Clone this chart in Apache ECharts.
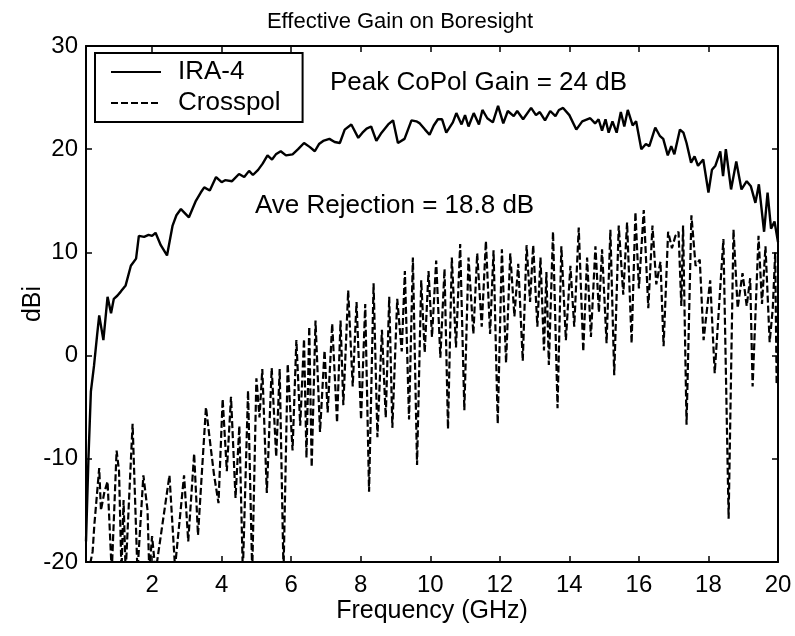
<!DOCTYPE html>
<html>
<head>
<meta charset="utf-8">
<script src="https://cdn.jsdelivr.net/npm/echarts@6/dist/echarts.min.js"></script>
<style>
  html, body { margin: 0; padding: 0; background: #fff; }
  #chart { width: 795px; height: 636px; }
</style>
</head>
<body>
<div id="chart"></div>
<script>
// Co-polarised boresight gain of the IRA-4 (frequency in GHz, gain in dBi)
const copolFreq = [0.10, 0.17, 0.24, 0.33, 0.42, 0.48, 0.60, 0.72, 0.82, 0.90, 1.00, 1.10, 1.24, 1.39, 1.54, 1.62, 1.77, 1.90, 2.00, 2.10,
  2.25, 2.43, 2.59, 2.70, 2.83, 3.06, 3.26, 3.40, 3.50, 3.66, 3.84, 4.00, 4.10, 4.30, 4.50, 4.65, 4.79, 4.90, 5.05, 5.18,
  5.32, 5.45, 5.56, 5.70, 5.85, 6.04, 6.20, 6.37, 6.54, 6.68, 6.80, 6.92, 7.10, 7.25, 7.40, 7.54, 7.73, 7.93, 8.05, 8.17,
  8.30, 8.45, 8.60, 8.79, 8.93, 9.07, 9.26, 9.46, 9.60, 9.70, 9.85, 9.98, 10.10, 10.22, 10.34, 10.46, 10.65, 10.75, 10.90, 11.00,
  11.10, 11.25, 11.40, 11.50, 11.64, 11.80, 11.95, 12.10, 12.23, 12.40, 12.50, 12.67, 12.90, 13.04, 13.15, 13.30, 13.45, 13.60, 13.70, 13.82,
  14.00, 14.20, 14.37, 14.60, 14.74, 14.84, 14.94, 15.04, 15.13, 15.24, 15.36, 15.48, 15.58, 15.68, 15.82, 15.92, 16.07, 16.20, 16.30, 16.47,
  16.60, 16.70, 16.83, 16.93, 17.02, 17.18, 17.28, 17.37, 17.50, 17.60, 17.70, 17.85, 18.00, 18.10, 18.20, 18.34, 18.42, 18.50, 18.65, 18.80,
  18.95, 19.10, 19.22, 19.35, 19.45, 19.60, 19.70, 19.80, 19.90, 20.00];
const copolGain = [-18, -10, -3.5, -1, 2, 3.9, 1.5, 5.7, 4.1, 5.5, 5.8, 6.2, 6.8, 8.7, 9.4, 11.6, 11.5, 11.7, 11.6, 11.9,
  10.7, 9.7, 12.6, 13.6, 14.2, 13.4, 15.0, 15.8, 16.3, 16.0, 17.3, 16.8, 17.0, 16.9, 17.6, 17.3, 17.9, 17.5, 18.0, 18.6,
  19.4, 19.0, 19.5, 19.8, 19.4, 19.5, 20.0, 20.6, 20.2, 19.8, 20.5, 20.8, 21.0, 20.7, 20.6, 21.9, 22.4, 21.1, 21.6, 22.0,
  22.2, 20.8, 21.6, 22.4, 22.8, 20.6, 21.0, 22.8, 22.7, 22.5, 21.9, 21.4, 22.3, 22.9, 22.9, 21.6, 22.6, 23.5, 22.4, 23.3,
  22.2, 23.5, 22.4, 23.8, 23.0, 22.6, 24.2, 22.5, 23.7, 23.2, 23.7, 22.9, 24.0, 23.3, 23.6, 22.8, 23.7, 23.2, 23.8, 24.0,
  23.3, 21.9, 22.7, 23.0, 22.5, 22.9, 21.8, 22.9, 21.6, 22.7, 21.6, 23.6, 22.2, 23.8, 22.3, 22.7, 20.0, 20.5, 20.3, 22.1,
  21.3, 21.0, 19.4, 20.3, 19.5, 21.9, 21.6, 20.6, 18.7, 19.3, 18.4, 19.0, 15.8, 18.0, 18.4, 19.8, 17.4, 20.0, 16.1, 18.8,
  16.1, 16.9, 16.4, 14.8, 16.6, 12.0, 15.8, 12.3, 13.0, 11.0];

// Cross-polarised response on boresight
const xpolFreq = [0.10, 0.20, 0.29, 0.34, 0.48, 0.53, 0.63, 0.72, 0.84, 0.98, 1.05, 1.12, 1.18, 1.24, 1.44, 1.58, 1.75, 1.87, 1.92, 2.00,
  2.10, 2.50, 2.66, 2.92, 3.04, 3.21, 3.32, 3.55, 3.69, 3.78, 3.91, 4.03, 4.15, 4.27, 4.40, 4.51, 4.61, 4.76, 4.88, 5.00,
  5.09, 5.17, 5.30, 5.44, 5.57, 5.67, 5.78, 5.90, 6.04, 6.15, 6.26, 6.37, 6.44, 6.52, 6.59, 6.70, 6.83, 6.96, 7.05, 7.18,
  7.32, 7.42, 7.50, 7.64, 7.77, 7.88, 8.01, 8.13, 8.24, 8.37, 8.48, 8.61, 8.72, 8.82, 8.91, 9.05, 9.18, 9.27, 9.39, 9.50,
  9.62, 9.74, 9.84, 9.95, 10.05, 10.17, 10.29, 10.41, 10.51, 10.62, 10.74, 10.86, 10.98, 11.10, 11.24, 11.35, 11.48, 11.60, 11.72, 11.82,
  11.94, 12.06, 12.18, 12.30, 12.42, 12.53, 12.66, 12.77, 12.87, 12.96, 13.08, 13.17, 13.27, 13.34, 13.41, 13.53, 13.66, 13.77, 13.90, 14.03,
  14.14, 14.27, 14.40, 14.51, 14.62, 14.75, 14.85, 14.94, 15.07, 15.18, 15.29, 15.42, 15.55, 15.66, 15.79, 15.90, 16.00, 16.14, 16.27, 16.39,
  16.50, 16.62, 16.71, 16.84, 16.95, 17.05, 17.14, 17.22, 17.27, 17.37, 17.51, 17.63, 17.75, 17.86, 18.05, 18.18, 18.43, 18.58, 18.72, 18.84,
  18.98, 19.10, 19.20, 19.27, 19.44, 19.54, 19.64, 19.76, 19.85, 19.92, 19.96, 20.00];
const xpolGain = [-21, -20.5, -19, -16.4, -10.9, -15, -13.2, -12.2, -21, -9.2, -11.2, -21, -14, -21, -6.6, -21, -11.6, -15, -21, -17.5,
  -21, -11.6, -20.5, -11.6, -18, -9.5, -17.4, -5.0, -9.0, -11.5, -14.3, -4.2, -11.2, -4.0, -13.8, -6.8, -21, -3.4, -21, -2.2,
  -6.0, -1.3, -13.3, -1.2, -9.8, -1.3, -21, -0.8, -9.2, 1.5, -6.8, 1.6, -9.9, 2.8, -10.8, 3.4, -7.4, 0.5, -5.5, 3.1,
  -6.5, 3.4, -4.8, 6.3, -3.0, 5.2, -6.2, 5.0, -13.2, 7.0, -7.9, 2.5, -6.0, 5.7, -7.0, 5.5, 0.4, 8.2, -6.2, 9.5,
  -10.6, 7.3, 0.3, 8.2, 1.8, 9.2, -0.2, 8.4, -7.1, 9.5, 0.8, 10.8, -5.3, 9.5, 2.1, 9.9, 2.8, 11.1, 2.1, 10.2,
  -6.6, 10.3, -0.7, 9.9, 3.8, 8.9, -0.5, 10.7, 5.2, 10.7, 2.8, 9.5, 0.5, 8.1, -0.9, 12.0, -5.1, 10.6, 1.5, 8.7,
  2.8, 12.4, 0.4, 9.5, 1.8, 10.6, 4.2, 10.3, 1.2, 12.2, -1.9, 12.6, 5.9, 12.9, 1.2, 13.9, 6.5, 14.1, 4.6, 12.6,
  6.9, 9.1, 0.9, 12.0, 10.4, 11.6, 12.0, 4.8, 12.6, -6.7, 13.6, 8.7, 9.3, 1.5, 7.3, -1.7, 11.3, -15.8, 12.2, 4.6,
  8.0, 4.8, 7.5, -3.0, 11.6, 5.0, 10.6, 1.3, 4.6, 10.0, -2.8, 2.0];

// Axis ticks
const freqTicks = [2, 4, 6, 8, 10, 12, 14, 16, 18, 20];
const gainTicks = [-20, -10, 0, 10, 20, 30];

const FONT = '"Liberation Sans", Arial, Helvetica, sans-serif';
const ink = '#000';

const pairs = (xs, ys) => xs.map((x, i) => [x, ys[i]]);

const chart = echarts.init(document.getElementById('chart'), null, { renderer: 'canvas' });

const xBase = {
  type: 'value', min: 0.1, max: 20,
  axisLine: { show: true, onZero: false, lineStyle: { color: ink, width: 2 } },
  axisTick: { show: true, inside: true, length: 6, customValues: freqTicks, lineStyle: { color: ink, width: 1.5 } },
  splitLine: { show: false }
};
const yBase = {
  type: 'value', min: gainTicks[0], max: gainTicks[gainTicks.length - 1], interval: 10,
  axisLine: { show: true, onZero: false, lineStyle: { color: ink, width: 2 } },
  axisTick: { show: true, inside: true, length: 6, lineStyle: { color: ink, width: 1.5 } },
  splitLine: { show: false }
};

chart.setOption({
  animation: false,
  backgroundColor: '#fff',
  textStyle: { fontFamily: FONT, color: ink },
  title: {
    text: 'Effective Gain on Boresight',
    left: 395, top: 6, textAlign: 'center',
    textStyle: { fontFamily: FONT, fontSize: 22, fontWeight: 'normal', color: ink }
  },
  grid: { left: 86, right: 17, top: 46, bottom: 74, containLabel: false },
  legend: {
    orient: 'vertical',
    left: 95, top: 53,
    padding: [6, 22, 6, 15],
    itemGap: 5,
    itemWidth: 50, itemHeight: 14,
    borderColor: ink, borderWidth: 2,
    backgroundColor: '#fff',
    itemStyle: { color: 'rgba(0,0,0,0)', borderWidth: 0, opacity: 0 },
    textStyle: { fontFamily: FONT, fontSize: 26, lineHeight: 26, color: ink, padding: [0, 0, 0, 12] },
    data: ['IRA-4', 'Crosspol']
  },
  xAxis: [
    Object.assign({}, xBase, {
      position: 'bottom',
      name: 'Frequency (GHz)', nameLocation: 'middle', nameGap: 37, nameMoveOverlap: false,
      nameTextStyle: { fontFamily: FONT, fontSize: 25, color: ink },
      axisLabel: { show: true, margin: 11, customValues: freqTicks, fontFamily: FONT, fontSize: 24, color: ink }
    }),
    Object.assign({}, xBase, { position: 'top', axisLabel: { show: false } })
  ],
  yAxis: [
    Object.assign({}, yBase, {
      position: 'left',
      name: 'dBi', nameLocation: 'middle', nameGap: 40, nameMoveOverlap: false,
      nameTextStyle: { fontFamily: FONT, fontSize: 25, color: ink },
      axisLabel: { show: true, margin: 8, fontFamily: FONT, fontSize: 24, color: ink }
    }),
    Object.assign({}, yBase, { position: 'right', axisLabel: { show: false } })
  ],
  graphic: [
    { type: 'text', left: 330, top: 70, z: 10,
      style: { text: 'Peak CoPol Gain = 24 dB', font: '26px ' + FONT, fill: ink } },
    { type: 'text', left: 255, top: 193, z: 10,
      style: { text: 'Ave Rejection = 18.8 dB', font: '26px ' + FONT, fill: ink } }
  ],
  series: [
    {
      name: 'IRA-4', type: 'line', xAxisIndex: 0, yAxisIndex: 0,
      data: pairs(copolFreq, copolGain),
      showSymbol: false, symbol: 'none', clip: true,
      lineStyle: { color: ink, width: 2.4, type: 'solid' },
      itemStyle: { color: ink }, z: 3
    },
    {
      name: 'Crosspol', type: 'line', xAxisIndex: 0, yAxisIndex: 0,
      data: pairs(xpolFreq, xpolGain),
      showSymbol: false, symbol: 'none', clip: true,
      lineStyle: { color: ink, width: 2.2, type: [7, 3] },
      itemStyle: { color: ink }, z: 2
    }
  ]
});
</script>
</body>
</html>
